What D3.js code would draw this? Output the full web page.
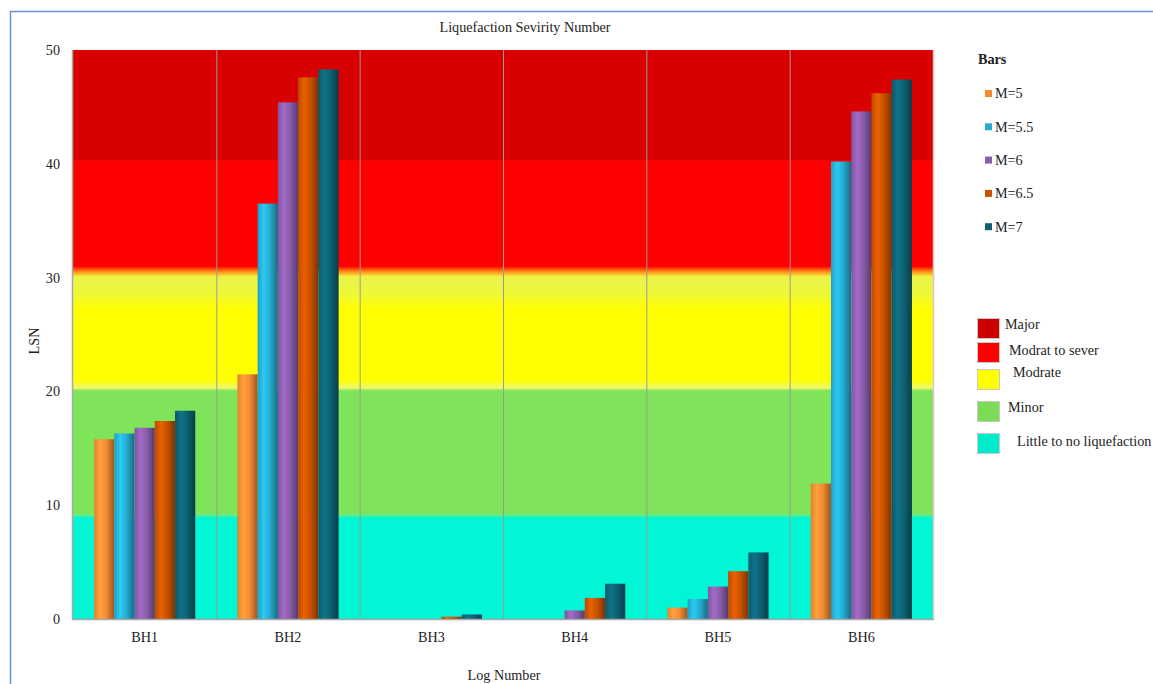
<!DOCTYPE html>
<html>
<head>
<meta charset="utf-8">
<script src="https://cdn.jsdelivr.net/npm/d3@7"></script>
<style>
  html, body { margin: 0; padding: 0; background: #fff; }
  svg { display: block; }
  svg text { font-family: "Liberation Serif", "Times New Roman", Times, "DejaVu Serif", serif; fill: #222; }
</style>
</head>
<body>
<svg id="chart" width="1153" height="684"></svg>
<script>
// Boreholes along the x axis
const categories = ["BH1", "BH2", "BH3", "BH4", "BH5", "BH6"];
// Earthquake magnitude series
const seriesNames = ["M=5", "M=5.5", "M=6", "M=6.5", "M=7"];
// LSN per borehole for each magnitude
const valuesM5   = [15.8, 21.5, 0,    0,    1.0,  11.9];
const valuesM55  = [16.3, 36.5, 0,    0,    1.75, 40.2];
const valuesM6   = [16.8, 45.4, 0,    0.75, 2.85, 44.6];
const valuesM65  = [17.4, 47.6, 0.2,  1.85, 4.2,  46.2];
const valuesM7   = [18.3, 48.3, 0.4,  3.1,  5.85, 47.4];
const seriesValues = [valuesM5, valuesM55, valuesM6, valuesM65, valuesM7];
const seriesColors = ["#f58a33", "#25acd0", "#8a5caa", "#c85200", "#0d6173"];
const yTicks = [0, 10, 20, 30, 40, 50];

// Severity classes painted behind the bars
const bandNames  = ["Major", "Modrat to sever", "Modrate", "Minor", "Little to no liquefaction"];
const bandLow    = [40.3, 30.5, 20.1, 9.05, 0];
const bandHigh   = [50, 40.3, 30.5, 20.1, 9.05];
const bandColors = ["#d90000", "#ff0000", "#ffff00", "#80e45a", "#00f6d5"];
const legendBandColors = ["#cc0000", "#ff0000", "#ffff00", "#7ddc56", "#00ebcc"];

const FONT = '"Liberation Serif", "Times New Roman", Times, "DejaVu Serif", serif';
const FS = 14.2;

const svg = d3.select("#chart");
const defs = svg.append("defs");

const margin = { left: 73, top: 50, right: 933, bottom: 619 };

const x0 = d3.scaleBand().domain(categories).range([margin.left, margin.right]).padding(0);
const bw = x0.bandwidth();
const x1 = d3.scaleBand().domain(seriesNames).range([bw * 0.147, bw * 0.853]).padding(0);
const y = d3.scaleLinear().domain([0, 50]).range([margin.bottom, margin.top]);

// Outer frame
svg.append("rect")
  .attr("x", 10.5).attr("y", 11.5)
  .attr("width", 1160).attr("height", 700)
  .attr("fill", "none").attr("stroke", "#6b93d8").attr("stroke-width", 1.5);

// Background gradient built from the severity bands
const bg = defs.append("linearGradient")
  .attr("id", "bandGrad")
  .attr("gradientUnits", "userSpaceOnUse")
  .attr("x1", 0).attr("x2", 0)
  .attr("y1", y(50)).attr("y2", y(0));
const span = y(0) - y(50);
const off = v => (y(v) - y(50)) / span;
function stop(v, c) { bg.append("stop").attr("offset", Math.max(0, Math.min(1, off(v)))).attr("stop-color", c); }

// Major
stop(50, bandColors[0]);
stop(bandLow[0] + 0.05, bandColors[0]);
// Modrat to sever
stop(bandLow[0] - 0.05, bandColors[1]);
stop(bandLow[1] + 0.5, bandColors[1]);
stop(bandLow[1] + 0.1, "#ff7a10");
stop(bandLow[1] - 0.4, "#f2f040");
// Modrate (lighter top, saturated middle)
stop(bandLow[1] - 0.7, "#e8f548");
stop(28.6, "#eef838");
stop(27.2, "#ffff00");
stop(21.0, "#ffff00");
stop(bandLow[2] + 0.2, "#eef86e");
// Minor
stop(bandLow[2] - 0.05, bandColors[3]);
stop(bandLow[3] + 0.3, bandColors[3]);
stop(bandLow[3] + 0.05, "#60ec8a");
// Little to no liquefaction
stop(bandLow[3] - 0.15, bandColors[4]);
stop(0, bandColors[4]);

svg.append("rect")
  .attr("x", margin.left).attr("y", y(50))
  .attr("width", margin.right - margin.left).attr("height", y(0) - y(50))
  .attr("fill", "url(#bandGrad)");

// Category dividers
svg.append("g").selectAll("line")
  .data(categories.slice(1))
  .join("line")
  .attr("x1", d => x0(d) + 0.5).attr("x2", d => x0(d) + 0.5)
  .attr("y1", y(50)).attr("y2", y(0))
  .attr("stroke", "#9a9a9a").attr("stroke-width", 1);

// Right edge of plot
svg.append("line")
  .attr("x1", margin.right + 0.5).attr("x2", margin.right + 0.5)
  .attr("y1", y(50)).attr("y2", y(0))
  .attr("stroke", "#e2c4c8").attr("stroke-width", 1.5);

// Cylinder-style shading for the bars
seriesColors.forEach((c, i) => {
  const base = d3.color(c);
  const g = defs.append("linearGradient").attr("id", "barGrad" + i)
    .attr("x1", 0).attr("x2", 1).attr("y1", 0).attr("y2", 0);
  g.append("stop").attr("offset", 0).attr("stop-color", base.darker(0.2));
  g.append("stop").attr("offset", 0.3).attr("stop-color", base.brighter(0.45));
  g.append("stop").attr("offset", 0.6).attr("stop-color", base);
  g.append("stop").attr("offset", 1).attr("stop-color", base.darker(1.3));
});

// Bars
const groups = svg.append("g").selectAll("g")
  .data(categories)
  .join("g")
  .attr("transform", d => `translate(${x0(d)},0)`);

groups.selectAll("rect")
  .data((cat, ci) => seriesNames.map((s, si) => ({ s, si, v: seriesValues[si][ci] })))
  .join("rect")
  .filter(d => d.v > 0)
  .attr("x", d => x1(d.s))
  .attr("width", x1.bandwidth())
  .attr("y", d => y(d.v))
  .attr("height", d => y(0) - y(d.v))
  .attr("fill", d => `url(#barGrad${d.si})`);

// Axes lines
svg.append("line")
  .attr("x1", margin.left - 0.5).attr("x2", margin.left - 0.5)
  .attr("y1", y(50)).attr("y2", y(0) + 1)
  .attr("stroke", "#a8a8a8").attr("stroke-width", 1.5);
svg.append("line")
  .attr("x1", margin.left - 1).attr("x2", margin.right + 1)
  .attr("y1", y(0) + 0.5).attr("y2", y(0) + 0.5)
  .attr("stroke", "#a8a8a8").attr("stroke-width", 1.5);

// Y axis labels
const yAxis = d3.axisLeft(y).tickValues(yTicks).tickSize(0).tickPadding(13);
const yg = svg.append("g").attr("transform", `translate(${margin.left},0)`).call(yAxis)
  .attr("font-family", FONT).attr("font-size", FS);
yg.select(".domain").remove();
yg.selectAll("text").attr("fill", "#333");

// X axis labels
const xAxis = d3.axisBottom(x0).tickSize(0).tickPadding(13);
const xg = svg.append("g").attr("transform", `translate(0,${y(0)})`).call(xAxis)
  .attr("font-family", FONT).attr("font-size", FS);
xg.select(".domain").remove();
xg.selectAll("text").attr("fill", "#333");

// Titles
svg.append("text").attr("x", 525).attr("y", 32).attr("text-anchor", "middle")
  .attr("font-size", FS).text("Liquefaction Sevirity Number");
svg.append("text").attr("x", 504).attr("y", 680).attr("text-anchor", "middle")
  .attr("font-size", FS).text("Log Number");
svg.append("text").attr("transform", "translate(39,341) rotate(-90)")
  .attr("text-anchor", "middle").attr("font-size", FS).text("LSN");

// Series legend
svg.append("text").attr("x", 978).attr("y", 64).attr("font-size", FS)
  .attr("font-weight", "bold").text("Bars");
const leg = svg.append("g").selectAll("g")
  .data(seriesNames)
  .join("g")
  .attr("transform", (d, i) => `translate(985,${93.5 + i * 33.3})`);
leg.append("rect").attr("x", 0).attr("y", -3.5).attr("width", 7).attr("height", 7)
  .attr("fill", (d, i) => seriesColors[i]);
leg.append("text").attr("x", 10).attr("y", 4.8).attr("font-size", FS).text(d => d);

// Severity legend
const bandLegendY = [318, 342, 369, 401, 433];
const bandLegendTextX = [1005, 1009, 1013, 1008, 1017];
const bandLegendTextY = [328.5, 354.5, 376.5, 411.5, 445.5];
const bl = svg.append("g").selectAll("g")
  .data(bandNames)
  .join("g");
bl.append("rect")
  .attr("x", 977.5).attr("y", (d, i) => bandLegendY[i] + 0.5)
  .attr("width", 22).attr("height", 20)
  .attr("fill", (d, i) => legendBandColors[i])
  .attr("stroke", "#c8c8c8").attr("stroke-width", 1);
bl.append("text")
  .attr("x", (d, i) => bandLegendTextX[i])
  .attr("y", (d, i) => bandLegendTextY[i])
  .attr("font-size", FS).text(d => d);
</script>
</body>
</html>
